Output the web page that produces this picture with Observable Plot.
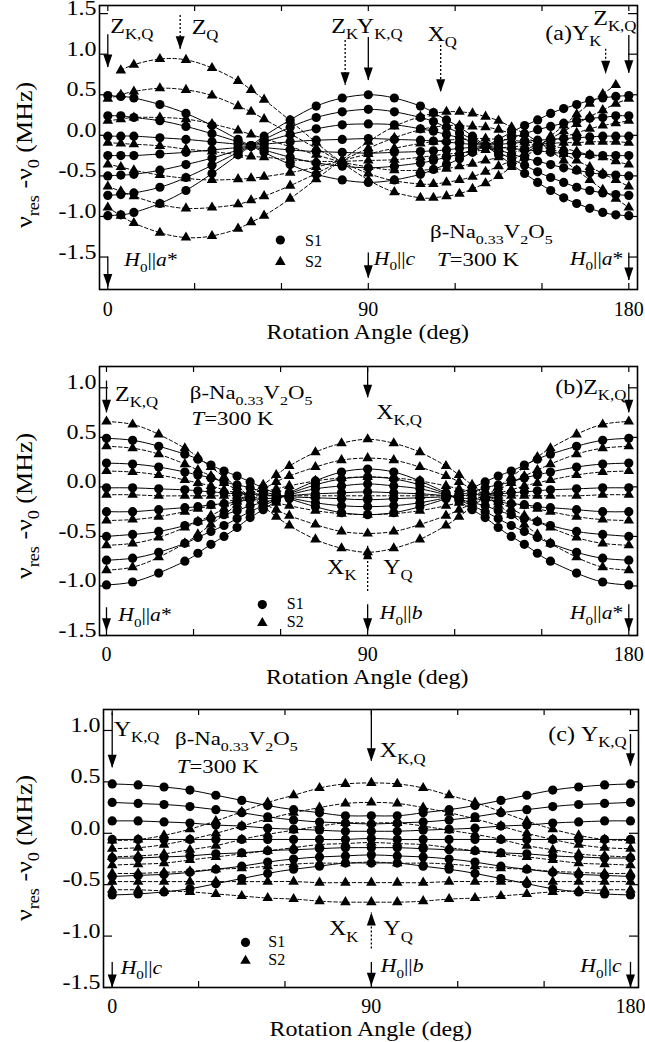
<!DOCTYPE html>
<html><head><meta charset="utf-8">
<script src="https://cdn.jsdelivr.net/npm/d3@7"></script>
<script src="https://cdn.jsdelivr.net/npm/@observablehq/plot@0.6"></script>
<style>
html,body{margin:0;padding:0;background:#fff;}
#chart{width:645px;}
#chart svg{display:block;font-family:'Liberation Serif','Times New Roman',Times,serif;}
</style></head><body><div id="chart"></div>
<script>
// ---------------- DATA ----------------
// rotation angles (deg) at which resonance lines were measured
const angA = [0,4.5,9,18,27,36,45,49.5,54,63,72,81,90,99,108,112.5,117,121.5,126,130.5,135,139.5,144,148.5,153,157.5,162,166.5,171,175.5,180];
const angB = [0,9,18,27,31.5,36,40.5,45,49.5,54,58.5,63,72,81,90,99,108,117,121.5,126,130.5,135,139.5,144,148.5,153,162,171,180];
const angC = [0,9,18,27,36,45,54,63,72,81,90,99,108,117,126,135,144,153,162,171,180];

// panel (a): seven resonance lines (MHz) of site S1 and S2
const aS1 = [
 [0.49,0.48,0.46,0.38,0.27,0.12,-0.05,-0.13,-0.21,-0.36,-0.48,-0.55,-0.58,-0.55,-0.48,-0.42,-0.36,-0.29,-0.21,-0.13,-0.05,0.04,0.12,0.19,0.27,0.33,0.38,0.43,0.46,0.48,0.49],
 [0.24,0.24,0.22,0.18,0.11,0.02,-0.08,-0.13,-0.18,-0.27,-0.34,-0.38,-0.40,-0.38,-0.34,-0.31,-0.27,-0.23,-0.18,-0.13,-0.08,-0.03,0.02,0.07,0.11,0.15,0.18,0.21,0.22,0.24,0.24],
 [-0.01,-0.01,-0.01,-0.03,-0.05,-0.08,-0.11,-0.13,-0.15,-0.18,-0.20,-0.21,-0.22,-0.21,-0.20,-0.19,-0.18,-0.16,-0.15,-0.13,-0.11,-0.10,-0.08,-0.06,-0.05,-0.04,-0.03,-0.02,-0.01,-0.01,-0.01],
 [-0.25,-0.25,-0.25,-0.23,-0.21,-0.18,-0.15,-0.13,-0.11,-0.08,-0.06,-0.05,-0.04,-0.05,-0.06,-0.07,-0.08,-0.10,-0.11,-0.13,-0.15,-0.16,-0.18,-0.19,-0.21,-0.22,-0.23,-0.24,-0.25,-0.25,-0.25],
 [-0.50,-0.49,-0.48,-0.43,-0.36,-0.28,-0.18,-0.13,-0.08,0.01,0.08,0.13,0.14,0.13,0.08,0.05,0.01,-0.03,-0.08,-0.13,-0.18,-0.23,-0.28,-0.32,-0.36,-0.40,-0.43,-0.46,-0.48,-0.49,-0.50],
 [-0.74,-0.73,-0.71,-0.64,-0.52,-0.37,-0.21,-0.13,-0.05,0.10,0.22,0.29,0.32,0.29,0.22,0.17,0.10,0.03,-0.05,-0.13,-0.21,-0.29,-0.37,-0.45,-0.52,-0.58,-0.64,-0.68,-0.71,-0.73,-0.74],
 [-0.99,-0.98,-0.95,-0.84,-0.68,-0.47,-0.24,-0.13,-0.01,0.19,0.36,0.46,0.50,0.46,0.36,0.28,0.19,0.10,-0.01,-0.13,-0.24,-0.36,-0.47,-0.58,-0.68,-0.77,-0.84,-0.90,-0.95,-0.98,-0.99]
];
const aS2 = [
 [null,0.80,0.87,0.94,0.93,0.83,0.67,0.56,0.44,0.18,-0.09,-0.34,-0.55,-0.70,-0.77,-0.77,-0.75,-0.72,-0.66,-0.59,-0.50,-0.39,-0.27,-0.15,-0.01,0.12,0.26,0.39,0.51,0.62,null],
 [0.45,0.50,0.54,0.58,0.56,0.49,0.36,0.29,0.20,0.02,-0.16,-0.33,-0.47,-0.56,-0.60,-0.60,-0.58,-0.55,-0.51,-0.45,-0.38,-0.31,-0.22,-0.13,-0.04,0.05,0.14,0.23,0.31,0.39,0.45],
 [0.18,0.20,0.22,0.22,0.20,0.14,0.06,0.01,-0.04,-0.14,-0.24,-0.33,-0.39,-0.43,-0.43,-0.42,-0.41,-0.38,-0.35,-0.31,-0.27,-0.22,-0.17,-0.12,-0.07,-0.02,0.03,0.08,0.12,0.15,0.18],
 [-0.09,-0.10,-0.11,-0.13,-0.17,-0.20,-0.24,-0.26,-0.27,-0.30,-0.32,-0.32,-0.31,-0.30,-0.27,-0.25,-0.23,-0.22,-0.20,-0.18,-0.16,-0.14,-0.13,-0.11,-0.10,-0.09,-0.09,-0.08,-0.08,-0.08,-0.09],
 [-0.36,-0.39,-0.43,-0.49,-0.53,-0.55,-0.54,-0.53,-0.51,-0.46,-0.39,-0.31,-0.23,-0.16,-0.10,-0.08,-0.06,-0.05,-0.04,-0.04,-0.05,-0.06,-0.08,-0.10,-0.13,-0.16,-0.20,-0.24,-0.27,-0.32,-0.36],
 [-0.63,-0.69,-0.75,-0.85,-0.90,-0.89,-0.85,-0.80,-0.75,-0.62,-0.47,-0.31,-0.16,-0.03,0.07,0.10,0.12,0.12,0.11,0.10,0.07,0.02,-0.03,-0.09,-0.16,-0.23,-0.31,-0.39,-0.47,-0.55,-0.63],
 [-0.89,-0.99,-1.08,-1.20,-1.26,-1.24,-1.15,-1.07,-0.99,-0.78,-0.54,-0.30,-0.08,0.11,0.23,0.27,0.29,0.29,0.27,0.23,0.18,0.10,0.02,-0.08,-0.19,-0.31,-0.43,-0.55,-0.67,-0.78,-0.89]
];

// panel (b)
const bS1 = [
 [0.49,0.47,0.41,0.33,0.28,0.22,0.16,0.11,0.05,-0.01,-0.07,-0.12,-0.20,-0.26,-0.28,-0.26,-0.20,-0.12,-0.07,-0.01,0.05,0.11,0.16,0.22,0.28,0.33,0.41,0.47,0.49],
 [0.24,0.23,0.20,0.15,0.12,0.09,0.05,0.02,-0.01,-0.05,-0.08,-0.11,-0.16,-0.19,-0.20,-0.19,-0.16,-0.11,-0.08,-0.05,-0.01,0.02,0.05,0.09,0.12,0.15,0.20,0.23,0.24],
 [-0.01,-0.01,-0.02,-0.03,-0.04,-0.05,-0.06,-0.07,-0.07,-0.08,-0.09,-0.10,-0.11,-0.12,-0.13,-0.12,-0.11,-0.10,-0.09,-0.08,-0.07,-0.07,-0.06,-0.05,-0.04,-0.03,-0.02,-0.01,-0.01],
 [-0.25,-0.25,-0.23,-0.21,-0.20,-0.18,-0.17,-0.15,-0.13,-0.12,-0.11,-0.09,-0.07,-0.06,-0.05,-0.06,-0.07,-0.09,-0.11,-0.12,-0.13,-0.15,-0.17,-0.18,-0.20,-0.21,-0.23,-0.25,-0.25],
 [-0.50,-0.48,-0.45,-0.39,-0.35,-0.32,-0.28,-0.24,-0.19,-0.16,-0.12,-0.08,-0.02,0.01,0.03,0.01,-0.02,-0.08,-0.12,-0.16,-0.19,-0.24,-0.28,-0.32,-0.35,-0.39,-0.45,-0.48,-0.50],
 [-0.74,-0.72,-0.66,-0.57,-0.51,-0.45,-0.39,-0.32,-0.25,-0.19,-0.13,-0.07,0.02,0.08,0.10,0.08,0.02,-0.07,-0.13,-0.19,-0.25,-0.32,-0.39,-0.45,-0.51,-0.57,-0.66,-0.72,-0.74],
 [-0.99,-0.96,-0.87,-0.75,-0.67,-0.58,-0.50,-0.41,-0.31,-0.23,-0.14,-0.06,0.06,0.15,0.18,0.15,0.06,-0.06,-0.14,-0.23,-0.31,-0.41,-0.50,-0.58,-0.67,-0.75,-0.87,-0.96,-0.99]
];
const bS2 = [
 [0.66,0.63,0.53,0.39,0.30,0.20,0.10,0.00,-0.10,-0.20,-0.30,-0.39,-0.53,-0.62,-0.66,-0.62,-0.53,-0.39,-0.30,-0.20,-0.10,0.00,0.10,0.20,0.30,0.39,0.53,0.63,0.66],
 [0.41,0.39,0.33,0.23,0.17,0.11,0.04,-0.03,-0.10,-0.17,-0.23,-0.29,-0.38,-0.45,-0.47,-0.45,-0.38,-0.29,-0.23,-0.17,-0.10,-0.03,0.04,0.11,0.17,0.23,0.33,0.39,0.41],
 [0.16,0.15,0.12,0.07,0.04,0.01,-0.03,-0.06,-0.09,-0.13,-0.16,-0.19,-0.24,-0.27,-0.28,-0.27,-0.24,-0.19,-0.16,-0.13,-0.09,-0.06,-0.03,0.01,0.04,0.07,0.12,0.15,0.16],
 [-0.08,-0.08,-0.09,-0.09,-0.09,-0.09,-0.09,-0.09,-0.09,-0.09,-0.09,-0.09,-0.09,-0.09,-0.09,-0.09,-0.09,-0.09,-0.09,-0.09,-0.09,-0.09,-0.09,-0.09,-0.09,-0.09,-0.09,-0.08,-0.08],
 [-0.34,-0.33,-0.30,-0.25,-0.22,-0.19,-0.16,-0.12,-0.09,-0.05,-0.02,0.01,0.06,0.09,0.10,0.09,0.06,0.01,-0.02,-0.05,-0.09,-0.12,-0.16,-0.19,-0.22,-0.25,-0.30,-0.33,-0.34],
 [-0.59,-0.57,-0.51,-0.41,-0.35,-0.29,-0.22,-0.15,-0.08,-0.02,0.05,0.11,0.20,0.27,0.29,0.27,0.20,0.11,0.05,-0.02,-0.08,-0.15,-0.22,-0.29,-0.35,-0.41,-0.51,-0.57,-0.59],
 [-0.84,-0.81,-0.71,-0.57,-0.48,-0.38,-0.28,-0.18,-0.08,0.02,0.12,0.21,0.35,0.44,0.48,0.44,0.35,0.21,0.12,0.02,-0.08,-0.18,-0.28,-0.38,-0.48,-0.57,-0.71,-0.81,-0.84]
];

// panel (c)
const cS1 = [
 [0.48,0.47,0.45,0.42,0.37,0.32,0.27,0.23,0.20,0.17,0.17,0.17,0.20,0.23,0.27,0.32,0.37,0.42,0.45,0.47,0.48],
 [0.30,0.29,0.28,0.26,0.23,0.20,0.16,0.13,0.11,0.10,0.09,0.10,0.11,0.13,0.16,0.20,0.23,0.26,0.28,0.29,0.30],
 [0.12,0.12,0.11,0.10,0.08,0.07,0.05,0.04,0.03,0.02,0.02,0.02,0.03,0.04,0.05,0.07,0.08,0.10,0.11,0.12,0.12],
 [-0.06,-0.06,-0.06,-0.06,-0.06,-0.06,-0.06,-0.06,-0.06,-0.06,-0.05,-0.06,-0.06,-0.06,-0.06,-0.06,-0.06,-0.06,-0.06,-0.06,-0.06],
 [-0.24,-0.24,-0.23,-0.22,-0.20,-0.19,-0.17,-0.16,-0.15,-0.14,-0.14,-0.14,-0.15,-0.16,-0.17,-0.19,-0.20,-0.22,-0.23,-0.24,-0.24],
 [-0.42,-0.41,-0.40,-0.38,-0.35,-0.32,-0.28,-0.25,-0.23,-0.22,-0.21,-0.22,-0.23,-0.25,-0.28,-0.32,-0.35,-0.38,-0.40,-0.41,-0.42],
 [-0.60,-0.59,-0.57,-0.54,-0.49,-0.44,-0.39,-0.35,-0.32,-0.29,-0.29,-0.29,-0.32,-0.35,-0.39,-0.44,-0.49,-0.54,-0.57,-0.59,-0.60]
];
const cS2 = [
 [-0.07,-0.06,-0.02,0.04,0.12,0.21,0.30,0.37,0.44,0.48,0.49,0.48,0.44,0.37,0.30,0.21,0.12,0.04,-0.02,-0.06,-0.07],
 [-0.15,-0.14,-0.11,-0.06,0.00,0.07,0.14,0.20,0.25,0.29,0.30,0.29,0.25,0.20,0.14,0.07,0.00,-0.06,-0.11,-0.14,-0.15],
 [-0.23,-0.22,-0.20,-0.16,-0.12,-0.06,-0.01,0.03,0.07,0.10,0.10,0.10,0.07,0.03,-0.01,-0.06,-0.12,-0.16,-0.20,-0.22,-0.23],
 [-0.31,-0.30,-0.29,-0.26,-0.23,-0.20,-0.17,-0.14,-0.11,-0.10,-0.09,-0.10,-0.11,-0.14,-0.17,-0.20,-0.23,-0.26,-0.29,-0.30,-0.31],
 [-0.39,-0.39,-0.38,-0.37,-0.35,-0.34,-0.32,-0.30,-0.29,-0.29,-0.28,-0.29,-0.29,-0.30,-0.32,-0.34,-0.35,-0.37,-0.38,-0.39,-0.39],
 [-0.47,-0.47,-0.47,-0.47,-0.47,-0.47,-0.47,-0.47,-0.48,-0.48,-0.48,-0.48,-0.48,-0.47,-0.47,-0.47,-0.47,-0.47,-0.47,-0.47,-0.47],
 [-0.55,-0.55,-0.56,-0.57,-0.59,-0.61,-0.63,-0.64,-0.66,-0.67,-0.67,-0.67,-0.66,-0.64,-0.63,-0.61,-0.59,-0.57,-0.56,-0.55,-0.55]
];

// axis ticks
const xTickMarks = [0,30,60,90,120,150,180];
const xTickLabels = [0,90,180];
const yTicksA = [-1.5,-1,-0.5,0,0.5,1,1.5];
const yTicksBC = [-1.5,-1,-0.5,0,0.5,1];

// ---------------- DRAWING ----------------
const FONT = "'Liberation Serif','Times New Roman',Times,serif";
const SX = 1.2;      // horizontal stretch of the lettering in the original
const SX_XTICK = 1.0;

function table(angles, lines) {
  const out = [];
  lines.forEach((vals, i) => vals.forEach((v, j) => out.push({angle: angles[j], nu: v, line: i})));
  return out;
}
const headDown = {draw(c) { c.moveTo(-4.5, -13); c.lineTo(4.5, -13); c.lineTo(0, 0); c.closePath(); }};
const headUp = {draw(c) { c.moveTo(-4.5, 13); c.lineTo(4.5, 13); c.lineTo(0, 0); c.closePath(); }};

const Zkq = [["Z"],["K,Q","s"]], Ykq = [["Y"],["K,Q","s"]], Xkq = [["X"],["K,Q","s"]];
const Xk = [["X"],["K","s"]], Yq = [["Y"],["Q","s"]];
const Ha = [["H","i"],["0","s"],["||"],["a","i"],["*"]];
const Hb = [["H","i"],["0","s"],["||"],["b","i"]];
const Hc = [["H","i"],["0","s"],["||"],["c","i"]];
const beta = [["β-Na"],["0.33","s"],["V"],["2","s"],["O"],["5","s"]];
const temp = [["T","i"],["=300 K"]];
const ylab = [["ν"],["res","s"],[" -ν"],["0","s"],[" (MHz)"]];

function addText(svg, t) {
  const xs = svg.scale("x"), ys = svg.scale("y");
  const px = (t.px != null ? t.px : xs.apply(t.x)) + (t.dx || 0);
  const py = (t.py != null ? t.py : ys.apply(t.y)) + (t.dy || 0);
  const size = t.size || 20, sx = t.sx != null ? t.sx : SX;
  const el = d3.select(svg).append("text")
    .attr("transform", `translate(${px},${py})${t.rotate ? ` rotate(${t.rotate})` : ""} scale(${sx},1)`)
    .attr("text-anchor", t.anchor || "start")
    .attr("fill", "black")
    .style("font-family", FONT).style("font-size", size + "px");
  let down = 0;
  for (const [s, st = ""] of t.parts) {
    const span = el.append("tspan").text(s);
    const sub = st.includes("s");
    const shift = sub ? size * 0.32 : 0;
    if (shift !== down) { span.attr("dy", shift - down); down = shift; }
    if (sub) span.style("font-size", (size * 0.7) + "px");
    if (st.includes("i")) span.style("font-style", "italic");
  }
}

function stretchTicks(svg) {
  const go = (sel, f, shiftY) => svg.querySelectorAll(sel).forEach(el => {
    el.style.fontFamily = FONT;
    el.style.fontSize = "20px";
    const tr = el.getAttribute("transform") || "";
    const x = el.getAttribute("x"), y = el.getAttribute("y");
    const extra = ` translate(${+x || 0},${(+y || 0) + shiftY})`;
    el.removeAttribute("x"); el.removeAttribute("y");
    el.setAttribute("transform", `${tr}${extra} scale(${f},1)`);
  });
  go('[aria-label="y-axis tick label"] text', SX, 1.5);
  go('[aria-label="x-axis tick label"] text', SX_XTICK, 0);
}

function panel(cfg) {
  const {height, mt, mb, ml, mr, xDomain, yDomain, yTicks, ang, s1, s2, arrows, legend, texts, xPad, ylabY} = cfg;
  const d1 = table(ang, s1), d2 = table(ang, s2);
  const fh = height - mt - mb, fw = 645 - ml - mr;
  const plot = Plot.plot({
    width: 645, height, marginTop: mt, marginBottom: mb, marginLeft: ml, marginRight: mr,
    x: {domain: xDomain, axis: null},
    y: {domain: yDomain, axis: null},
    style: `font-family: ${FONT}; font-size: 20px; background: white; color: black; overflow: visible;`,
    marks: [
      Plot.line(d2, {x: "angle", y: "nu", z: "line", curve: "natural", stroke: "black", strokeWidth: 1, strokeDasharray: "3.5,2.5"}),
      Plot.line(d1, {x: "angle", y: "nu", z: "line", curve: "natural", stroke: "black", strokeWidth: 1}),
      Plot.dot(d1, {x: "angle", y: "nu", r: 4.6, fill: "black"}),
      Plot.dot(d2, {x: "angle", y: "nu", r: 3.9, symbol: "triangle", fill: "black"}),
      // legend symbols
      Plot.dot([legend], {x: "x", y: "c", r: 4.6, fill: "black"}),
      Plot.dot([legend], {x: "x", y: "t", r: 3.9, symbol: "triangle", fill: "black"}),
      // inward ticks on all four sides
      Plot.tickX(xTickMarks, {x: d => d, insetTop: fh - 6, stroke: "black", strokeWidth: 1.2}),
      Plot.tickX(xTickMarks, {x: d => d, insetBottom: fh - 6, stroke: "black", strokeWidth: 1.2}),
      Plot.tickY(yTicks, {y: d => d, insetRight: fw - 9, stroke: "black", strokeWidth: 1.2}),
      Plot.tickY(yTicks, {y: d => d, insetLeft: fw - 9, stroke: "black", strokeWidth: 1.2}),
      Plot.axisY({anchor: "left", ticks: yTicks, tickSize: 0, tickPadding: 3, label: null, tickFormat: d => d.toFixed(1), fontSize: 20, fontFamily: FONT}),
      Plot.axisX({anchor: "bottom", ticks: xTickLabels, tickSize: 0, tickPadding: xPad, label: null, tickFormat: d => String(d), fontSize: 20, fontFamily: FONT}),
      // arrows
      Plot.ruleX(arrows.filter(a => !a.dash), {x: "x", y1: "y1", y2: "y2", stroke: "black", strokeWidth: 1.3}),
      Plot.ruleX(arrows.filter(a => a.dash), {x: "x", y1: "y1", y2: "y2", stroke: "black", strokeWidth: 1.3, strokeDasharray: "2,2"}),
      Plot.dot(arrows.filter(a => !a.up), {x: "x", y: "y2", symbol: headDown, fill: "black"}),
      Plot.dot(arrows.filter(a => a.up), {x: "x", y: "y2", symbol: headUp, fill: "black"}),
      Plot.frame({stroke: "black", strokeWidth: 1.6})
    ]
  });
  stretchTicks(plot);
  for (const t of texts) addText(plot, t);
  addText(plot, {x: 90, py: height - 6, anchor: "middle", size: 20, sx: 1.2, parts: [["Rotation Angle (deg)"]]});
  addText(plot, {px: 32, py: ylabY, anchor: "middle", rotate: -90, size: 23, sx: 1.13, parts: ylab});
  return plot;
}

const root = document.getElementById("chart");

root.appendChild(panel({
  height: 345, mt: 5, mb: 56, ml: 99, mr: 8,
  xDomain: [-2.87, 183.0], yDomain: [-1.9, 1.6], yTicks: yTicksA, xPad: 26, ylabY: 155,
  ang: angA, s1: aS1, s2: aS2,
  legend: {x: 59.6, c: -1.29, t: -1.56},
  arrows: [
    {x: 0, y1: 1.24, y2: 0.837}, {x: 25, y1: 1.478, y2: 1.06, dash: true}, {x: 82, y1: 1.17, y2: 0.616, dash: true},
    {x: 90, y1: 1.207, y2: 0.677}, {x: 115, y1: 1.108, y2: 0.53, dash: true}, {x: 172, y1: 1.06, y2: 0.76, dash: true},
    {x: 180, y1: 1.23, y2: 0.764}, {x: 0, y1: -1.5, y2: -1.87}, {x: 90, y1: -1.45, y2: -1.76}, {x: 180, y1: -1.45, y2: -1.79}
  ],
  texts: [
    {x: 0, y: 1.256, dx: 3, parts: Zkq},
    {x: 25, y: 1.244, dx: 12, parts: [["Z"],["Q","s"]]},
    {x: 82, y: 1.256, anchor: "middle", parts: [["Z"],["K","s"]]},
    {x: 90, y: 1.256, dx: -11, parts: Ykq},
    {x: 115, y: 1.158, dx: 2, anchor: "middle", parts: [["X"],["Q","s"]]},
    {x: 180, y: 1.17, dx: -83, parts: [["(a)"],["Y"],["K","s"]]},
    {x: 180, y: 1.355, dx: -35, parts: Zkq},
    {x: 0, y: -1.622, dx: 17, size: 18, parts: Ha},
    {x: 90, y: -1.60, dx: 6, size: 18, parts: Hc},
    {x: 180, y: -1.60, dx: -5, anchor: "end", size: 18, parts: Ha},
    {x: 111.5, y: -1.275, size: 19, parts: beta},
    {x: 113.9, y: -1.615, size: 19, parts: temp},
    {x: 68.3, y: -1.376, size: 16, sx: 1, parts: [["S1"]]},
    {x: 68.3, y: -1.626, size: 16, sx: 1, parts: [["S2"]]}
  ]
}));

root.appendChild(panel({
  height: 345, mt: 21, mb: 55, ml: 99, mr: 8,
  xDomain: [-2.41, 183.0], yDomain: [-1.5, 1.215], yTicks: yTicksBC, xPad: 25, ylabY: 161,
  ang: angB, s1: bS1, s2: bS2,
  legend: {x: 53.7, c: -1.188, t: -1.374},
  arrows: [
    {x: 0, y1: 1.068, y2: 0.748}, {x: 180, y1: 1.034, y2: 0.748}, {x: 90, y1: 1.2, y2: 0.90},
    {x: 90, y1: -1.055, y2: -0.6, dash: true, up: true},
    {x: 90, y1: -1.19, y2: -1.458}, {x: 0, y1: -1.22, y2: -1.458}, {x: 180, y1: -1.19, y2: -1.458}
  ],
  texts: [
    {x: 0, y: 0.866, dx: 9, parts: Zkq},
    {x: 28.9, y: 0.88, size: 19, parts: beta},
    {x: 29.5, y: 0.622, size: 19, parts: temp},
    {x: 180, y: 0.933, dx: -2, anchor: "end", parts: [["(b)"],["Z"],["K,Q","s"]]},
    {x: 90, y: 0.68, dx: 9, parts: Xkq},
    {x: 90, y: -0.885, dx: -10.6, anchor: "end", parts: Xk},
    {x: 90, y: -0.885, dx: 16, parts: Yq},
    {x: 90, y: -1.34, dx: 12.7, size: 18, parts: Hb},
    {x: 180, y: -1.34, dx: -5, anchor: "end", size: 18, parts: Ha},
    {x: 0, y: -1.357, dx: 12.3, size: 18, parts: Ha},
    {x: 62.3, y: -1.238, size: 16, sx: 1, parts: [["S1"]]},
    {x: 62.3, y: -1.424, size: 16, sx: 1, parts: [["S2"]]}
  ]
}));

root.appendChild(panel({
  height: 352, mt: 19, mb: 55, ml: 103, mr: 7,
  xDomain: [-3.02, 182.78], yDomain: [-1.5, 1.204], yTicks: yTicksBC, xPad: 25, ylabY: 158,
  ang: angC, s1: cS1, s2: cS2,
  legend: {x: 46.3, c: -1.062, t: -1.24},
  arrows: [
    {x: 0, y1: 1.17, y2: 0.637}, {x: 180, y1: 0.961, y2: 0.653}, {x: 90, y1: 1.2, y2: 0.70},
    {x: 90, y1: -1.126, y2: -0.771, dash: true, up: true},
    {x: 90, y1: -1.256, y2: -1.483}, {x: 0, y1: -1.256, y2: -1.5}, {x: 180, y1: -1.256, y2: -1.5}
  ],
  texts: [
    {x: 0, y: 0.945, dx: 2, parts: Ykq},
    {x: 22, y: 0.85, size: 19, parts: beta},
    {x: 22.6, y: 0.58, size: 19, parts: temp},
    {x: 180, y: 0.896, dx: -3.3, anchor: "end", parts: [["(c) "],["Y"],["K,Q","s"]]},
    {x: 90, y: 0.734, dx: 9, parts: Xkq},
    {x: 90, y: -0.997, dx: -12.5, anchor: "end", parts: Xk},
    {x: 90, y: -0.997, dx: 12.5, parts: Yq},
    {x: 90, y: -1.353, dx: 10, size: 18, parts: Hb},
    {x: 180, y: -1.353, dx: -8.3, anchor: "end", size: 18, parts: Hc},
    {x: 0, y: -1.369, dx: 9, size: 18, parts: Hc},
    {x: 54.4, y: -1.111, size: 16, sx: 1, parts: [["S1"]]},
    {x: 54.4, y: -1.288, size: 16, sx: 1, parts: [["S2"]]}
  ]
}));
</script>
</body></html>
